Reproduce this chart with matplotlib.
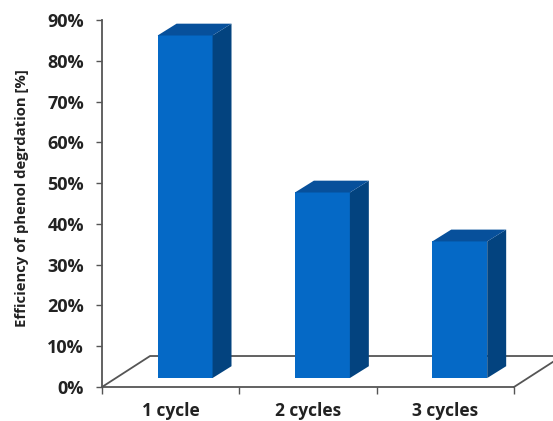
import matplotlib
matplotlib.use("Agg")
import matplotlib.pyplot as plt
from matplotlib.patches import Polygon

cycles = ["1 cycle", "2 cycles", "3 cycles"]
efficiency = [84, 45.5, 33.5]
yticks = list(range(0, 100, 10))

W, H = 553, 421
FRONT, SIDE, TOP = "#0569c6", "#03437f", "#07509b"
AXIS = "#555555"
TEXT = "#222222"
BAR_W = 0.40      # front face width, in category units
BAR_SHIFT = 0.105 # bars sit forward on the floor, off the category centre
BAR_BASE = 2.2    # front edge of the bars above the 0% line
DX, DY = 0.138, 2.9   # bar depth
FLOOR_DX, FLOOR_DY = 0.35, 7.6  # floor depth

plt.rcParams["font.family"] = ["Open Sans", "DejaVu Sans"]
fig = plt.figure(figsize=(W / 100, H / 100), dpi=100)
ax = fig.add_axes([102 / W, 1 - 387 / H, 412 / W, 367 / H])
ax.set_xlim(-0.5, 2.5)
ax.set_ylim(0, 90)

# floor of the pseudo-3D chart
xl, xr = -0.5, 2.5
ax.plot([xl, xl + FLOOR_DX, xr + FLOOR_DX, xr], [0, FLOOR_DY, FLOOR_DY, 0],
        color=AXIS, lw=1.3, clip_on=False, zorder=1)

xs = [i + BAR_SHIFT for i in range(len(cycles))]
ax.bar(xs, efficiency, BAR_W, bottom=BAR_BASE, color=FRONT, zorder=3)
for x, v in zip(xs, efficiency):
    l, r = x - BAR_W / 2, x + BAR_W / 2
    b, t = BAR_BASE, BAR_BASE + v
    ax.add_patch(Polygon([(r, b), (r + DX, b + DY), (r + DX, t + DY), (r, t)],
                         color=SIDE, lw=0, zorder=3))
    ax.add_patch(Polygon([(l, t), (l + DX, t + DY), (r + DX, t + DY), (r, t)],
                         color=TOP, lw=0, zorder=3))

for s in ("top", "right"):
    ax.spines[s].set_visible(False)
for s in ("left", "bottom"):
    ax.spines[s].set_color(AXIS)
    ax.spines[s].set_linewidth(1.3)

ax.set_yticks(yticks)
ax.set_yticklabels([f"{v}%" for v in yticks], fontsize=13, fontweight="bold", color=TEXT)
ax.tick_params(axis="y", length=4, width=1, color=AXIS, pad=9)

# ticks mark the category boundaries, labels sit between them
ax.set_xticks([-0.5, 0.5, 1.5, 2.5])
ax.set_xticklabels([])
ax.tick_params(axis="x", length=5, width=1, color=AXIS)
for i, c in enumerate(cycles):
    ax.text(i, -5.9, c, ha="center", va="center", fontsize=12.5, fontweight="bold", color=TEXT)

fig.text(22 / W, 1 - 198 / H, "Efficiency of phenol degrdation [%]", rotation=90,
         ha="center", va="center", fontsize=10.7, fontweight="bold", color=TEXT)

fig.savefig("out.png", dpi=100)
